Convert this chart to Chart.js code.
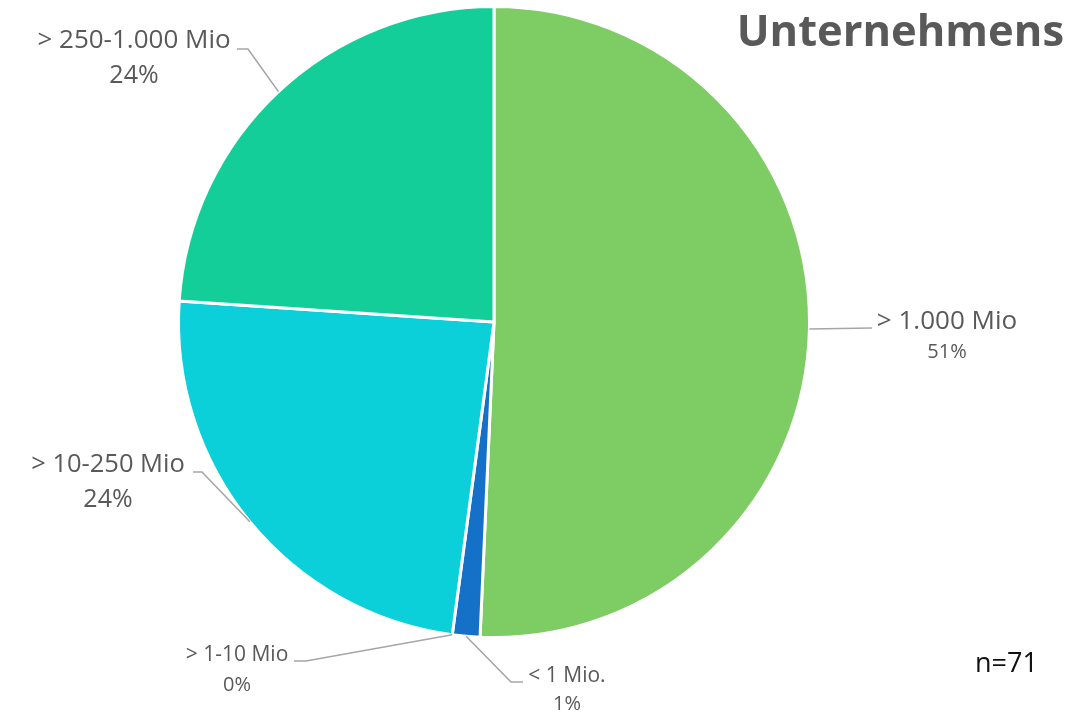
<!DOCTYPE html>
<html>
<head>
<meta charset="utf-8">
<script src="https://cdn.jsdelivr.net/npm/chart.js@4.4.1/dist/chart.umd.min.js"></script>
<style>
  html, body { margin: 0; padding: 0; background: #ffffff; }
  #wrap { position: relative; width: 1066px; height: 716px; }
</style>
</head>
<body>
<div id="wrap"><canvas id="c" width="1066" height="716"></canvas></div>
<script>
// ---- data ----
const categories = ['> 1.000 Mio', '< 1 Mio.', '> 1-10 Mio', '> 10-250 Mio', '> 250-1.000 Mio'];
const counts = [36, 1, 0, 17, 17];
const colors = ['#7DCC64', '#1570C8', '#2E8BE0', '#0CD0D9', '#13CE98'];
const chartTitle = 'Unternehmens';
const sampleNote = 'n=71';

const total = counts.reduce((a, b) => a + b, 0);
const percentLabels = counts.map(v => Math.round(v / total * 100) + '%');

// ---- label layout (positions only) ----
const labelLayout = [
  { cx: 947, nameY: 329, pctY: 358, nameSize: 26, pctSize: 20, pts: [[872, 328]] },
  { cx: 567, nameY: 682, pctY: 710, nameSize: 21, pctSize: 20, pts: [[511, 682], [523, 682]] },
  { cx: 237, nameY: 661, pctY: 691, nameSize: 21, pctSize: 20, pts: [[306, 661], [294, 661]] },
  { cx: 108, nameY: 472, pctY: 507, nameSize: 25.5, pctSize: 25, pts: [[202, 472], [193, 472]] },
  { cx: 134, nameY: 48, pctY: 83, nameSize: 26, pctSize: 25, pts: [[248, 49], [237, 49]] }
];

const FONT = '"Open Sans", "Liberation Sans", sans-serif';

const labelPlugin = {
  id: 'pieLabels',
  afterDatasetsDraw(chart) {
    const ctx = chart.ctx;
    const meta = chart.getDatasetMeta(0);
    ctx.save();
    meta.data.forEach((arc, i) => {
      const L = labelLayout[i];
      const p = arc.getProps(['x', 'y', 'startAngle', 'endAngle', 'outerRadius'], true);
      const mid = (p.startAngle + p.endAngle) / 2;
      const r = p.outerRadius;
      const ax = p.x + Math.cos(mid) * r;
      const ay = p.y + Math.sin(mid) * r;
      ctx.beginPath();
      ctx.strokeStyle = '#A6A6A6';
      ctx.lineWidth = 1.6;
      ctx.moveTo(ax, ay);
      L.pts.forEach(pt => ctx.lineTo(pt[0], pt[1]));
      ctx.stroke();
      ctx.fillStyle = '#595959';
      ctx.textAlign = 'center';
      ctx.textBaseline = 'alphabetic';
      ctx.font = L.nameSize + 'px ' + FONT;
      ctx.fillText(categories[i], L.cx, L.nameY);
      ctx.font = L.pctSize + 'px ' + FONT;
      ctx.fillText(percentLabels[i], L.cx, L.pctY);
    });
    // title
    ctx.fillStyle = '#595959';
    ctx.textAlign = 'right';
    ctx.font = 'bold 43.5px ' + FONT;
    ctx.fillText(chartTitle, 1064, 46);
    // n
    ctx.fillStyle = '#111111';
    ctx.textAlign = 'left';
    ctx.font = '27px ' + FONT;
    ctx.fillText(sampleNote, 975, 672);
    ctx.restore();
  }
};

new Chart(document.getElementById('c'), {
  type: 'pie',
  data: {
    labels: categories,
    datasets: [{
      data: counts,
      backgroundColor: colors,
      borderColor: '#ffffff',
      borderWidth: 3,
      hoverOffset: 0
    }]
  },
  options: {
    responsive: false,
    animation: false,
    layout: { padding: { left: 177, right: 255, top: 5, bottom: 77 } },
    plugins: {
      legend: { display: false },
      tooltip: { enabled: false },
      title: { display: false }
    }
  },
  plugins: [labelPlugin]
});
</script>
</body>
</html>
